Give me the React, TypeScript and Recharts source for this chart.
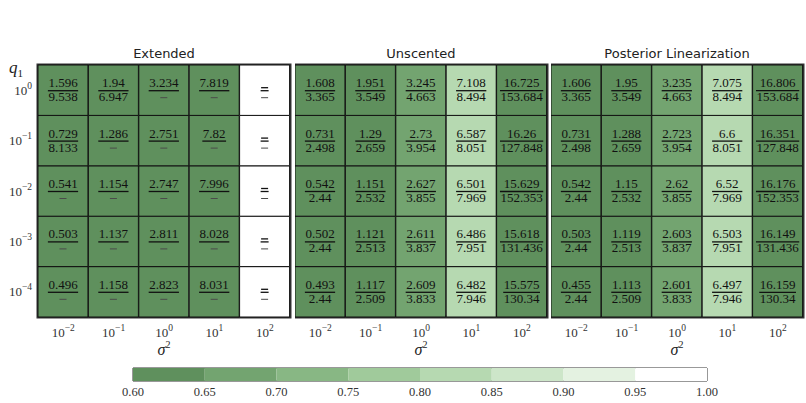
import React from "react";
import { BarChart, Bar, XAxis, YAxis, Cell, LabelList, ReferenceArea, Label } from "recharts";

// axes: sigma^2 exponents (columns) and q1 exponents (rows, top to bottom)
const sigmaExps = [-2, -1, 0, 1, 2];
const q1Exps = [0, -1, -2, -3, -4];

const panelTitles = ["Extended", "Unscented", "Posterior Linearization"];

// null means "—"
const extendedNum = [
  ["1.596", "1.94", "3.234", "7.819", null],
  ["0.729", "1.286", "2.751", "7.82", null],
  ["0.541", "1.154", "2.747", "7.996", null],
  ["0.503", "1.137", "2.811", "8.028", null],
  ["0.496", "1.158", "2.823", "8.031", null],
];
const extendedDen = [
  ["9.538", "6.947", null, null, null],
  ["8.133", null, null, null, null],
  [null, null, null, null, null],
  [null, null, null, null, null],
  [null, null, null, null, null],
];
const unscentedNum = [
  ["1.608", "1.951", "3.245", "7.108", "16.725"],
  ["0.731", "1.29", "2.73", "6.587", "16.26"],
  ["0.542", "1.151", "2.627", "6.501", "15.629"],
  ["0.502", "1.121", "2.611", "6.486", "15.618"],
  ["0.493", "1.117", "2.609", "6.482", "15.575"],
];
const unscentedDen = [
  ["3.365", "3.549", "4.663", "8.494", "153.684"],
  ["2.498", "2.659", "3.954", "8.051", "127.848"],
  ["2.44", "2.532", "3.855", "7.969", "152.353"],
  ["2.44", "2.513", "3.837", "7.951", "131.436"],
  ["2.44", "2.509", "3.833", "7.946", "130.34"],
];
const posteriorNum = [
  ["1.606", "1.95", "3.235", "7.075", "16.806"],
  ["0.731", "1.288", "2.723", "6.6", "16.351"],
  ["0.542", "1.15", "2.62", "6.52", "16.176"],
  ["0.503", "1.119", "2.603", "6.503", "16.149"],
  ["0.455", "1.113", "2.601", "6.497", "16.159"],
];
const posteriorDen = unscentedDen;

// colour values (estimated from the shading)
const extendedScore = [
  [0.63, 0.63, 0.63, 0.63, 1.0],
  [0.63, 0.63, 0.63, 0.63, 1.0],
  [0.63, 0.63, 0.63, 0.63, 1.0],
  [0.63, 0.63, 0.63, 0.63, 1.0],
  [0.63, 0.63, 0.63, 0.63, 1.0],
];
const unscentedScore = [
  [0.61, 0.61, 0.67, 0.82, 0.61],
  [0.61, 0.61, 0.67, 0.82, 0.61],
  [0.61, 0.61, 0.67, 0.82, 0.61],
  [0.61, 0.61, 0.67, 0.82, 0.61],
  [0.61, 0.61, 0.67, 0.82, 0.61],
];
const posteriorScore = unscentedScore;

const colorBounds = [0.6, 0.65, 0.7, 0.75, 0.8, 0.85, 0.9, 0.95, 1.0];
const binColors = ["#5f905d", "#73a470", "#88b784", "#a0ca9b", "#b6d9b1", "#cde6c9", "#e4f2e1", "#ffffff"];

const SERIF = "'Liberation Serif', 'DejaVu Serif', serif";

function colorFor(v: number) {
  let k = Math.floor((v - colorBounds[0]) / 0.05 + 1e-9);
  k = Math.max(0, Math.min(binColors.length - 1, k));
  return binColors[k];
}

function textWidth(s: string) {
  return [...s].reduce((w, c) => w + (c === "." ? 3.25 : 6.5), 0);
}

function Fraction({ cx, cy, num, den }: { cx: number; cy: number; num: string | null; den: string | null }) {
  const w = Math.max(num ? textWidth(num) : 7, den ? textWidth(den) : 0) + 1;
  return (
    <g>
      {num ? (
        <text x={cx} y={cy - 3} textAnchor="middle" fontFamily={SERIF} fontSize={13} fill="#111">
          {num}
        </text>
      ) : (
        <line x1={cx - 3.5} x2={cx + 3.5} y1={cy - 2.5} y2={cy - 2.5} stroke="#111" strokeWidth={1.3} />
      )}
      <line x1={cx - w / 2} x2={cx + w / 2} y1={cy + 0.5} y2={cy + 0.5} stroke="#111" strokeWidth={1.3} />
      {den ? (
        <text x={cx} y={cy + 11} textAnchor="middle" fontFamily={SERIF} fontSize={13} fill="#111">
          {den}
        </text>
      ) : (
        <line x1={cx - 3.5} x2={cx + 3.5} y1={cy + 7.5} y2={cy + 7.5} stroke="#4a4a4a" strokeWidth={1} />
      )}
    </g>
  );
}

function PowerTick(props: any) {
  const { x, y, payload, anchor, dy } = props;
  const e = payload.value as number;
  const exp = e < 0 ? `\u2212${-e}` : `${e}`;
  return (
    <text x={x} y={y + dy} textAnchor={anchor} fontFamily={SERIF} fontSize={13} fill="#333">
      <tspan>10</tspan>
      <tspan dy={-6} fontSize={9.5}>
        {exp}
      </tspan>
    </text>
  );
}

function XTick(props: any) {
  return <PowerTick {...props} anchor="middle" dy={20} />;
}

function YTick(props: any) {
  const t = props.payload.value as number;
  const i = Math.round(q1Exps.length - 0.5 - t);
  return <PowerTick {...props} x={props.x - 6} payload={{ value: q1Exps[i] }} anchor="end" dy={4.5} />;
}

function SigmaLabel(props: any) {
  const { x, y, width } = props.viewBox;
  return (
    <text x={x + width / 2} y={y + 38} textAnchor="middle" fontFamily={SERIF} fontSize={16} fill="#222">
      <tspan fontStyle="italic">σ</tspan>
      <tspan dy={-7} fontSize={10}>
        2
      </tspan>
    </text>
  );
}

type PanelProps = {
  title: string;
  num: (string | null)[][];
  den: (string | null)[][];
  score: number[][];
  left: number;
  width: number;
  showY: boolean;
};

function Panel({ title, num, den, score, left, width, showY }: PanelProps) {
  const data = sigmaExps.map((e) => {
    const row: Record<string, number> = { sigma: e };
    q1Exps.forEach((_, i) => (row[`r${i}`] = 1));
    return row;
  });
  const rowsBottomUp = q1Exps.map((_, i) => q1Exps.length - 1 - i);
  const yTicks = q1Exps.map((_, i) => q1Exps.length - 0.5 - i);
  const yWidth = showY ? 38 : 0;
  const plotW = width - yWidth - 3;

  return (
    <div style={{ position: "absolute", left, top: 0, width, height: 360 }}>
      <div
        style={{
          position: "absolute",
          left: yWidth,
          width: plotW,
          top: 46,
          textAlign: "center",
          fontFamily: "'DejaVu Sans', sans-serif",
          fontSize: 13,
          lineHeight: "16px",
          color: "#222",
        }}
      >
        {title}
      </div>
      <BarChart width={width} height={360} data={data} margin={{ top: 65, right: 3, left: 0, bottom: 0 }} barCategoryGap={0} barGap={0}>
        <XAxis dataKey="sigma" type="category" height={43} axisLine={false} tickLine={false} tickSize={0} tickMargin={0} tick={<XTick />} interval={0}>
          <Label content={<SigmaLabel />} />
        </XAxis>
        <YAxis
          type="number"
          domain={[0, q1Exps.length]}
          ticks={yTicks}
          hide={!showY}
          width={yWidth}
          axisLine={false}
          tickLine={false}
          tickSize={0}
          tickMargin={0}
          tick={<YTick />}
          interval={0}
        />
        {rowsBottomUp.map((i) => (
          <Bar key={i} dataKey={`r${i}`} stackId="grid" isAnimationActive={false}>
            {sigmaExps.map((_, j) => (
              <Cell key={j} fill={colorFor(score[i][j])} stroke="#111" strokeWidth={1} />
            ))}
            <LabelList
              dataKey={`r${i}`}
              content={(p: any) => (
                <Fraction
                  cx={Number(p.x) + Number(p.width) / 2}
                  cy={Number(p.y) + Number(p.height) / 2}
                  num={num[i][p.index]}
                  den={den[i][p.index]}
                />
              )}
            />
          </Bar>
        ))}
        <ReferenceArea y1={0} y2={q1Exps.length} fill="none" stroke="#333" strokeWidth={3} ifOverflow="visible" />
      </BarChart>
    </div>
  );
}

function CbTick(props: any) {
  const { x, y, payload } = props;
  return (
    <text x={x} y={y + 15} textAnchor="middle" fontFamily={SERIF} fontSize={12.5} fill="#333">
      {Number(payload.value).toFixed(2)}
    </text>
  );
}

function Colorbar() {
  const row: Record<string, number | string> = { name: "cb", offset: colorBounds[0] };
  binColors.forEach((_, k) => (row[`b${k}`] = colorBounds[k + 1] - colorBounds[k]));
  const cbData = [row];
  return (
    <div style={{ position: "absolute", left: 100, top: 360, width: 640, height: 43 }}>
      <BarChart layout="vertical" width={640} height={43} data={cbData} margin={{ top: 8, right: 33, left: 33, bottom: 0 }} barCategoryGap={0}>
        <XAxis
          type="number"
          domain={[colorBounds[0], colorBounds[colorBounds.length - 1]]}
          allowDataOverflow
          ticks={colorBounds}
          interval={0}
          height={22}
          axisLine={false}
          tickLine={false}
          tickSize={0}
          tickMargin={0}
          tick={<CbTick />}
        />
        <YAxis type="category" dataKey="name" hide />
        <Bar dataKey="offset" stackId="cb" fill="none" isAnimationActive={false} />
        {binColors.map((c, k) => (
          <Bar key={k} dataKey={`b${k}`} stackId="cb" fill={c} isAnimationActive={false} />
        ))}
        <ReferenceArea x1={colorBounds[0]} x2={colorBounds[colorBounds.length - 1]} fill="none" stroke="#333" strokeWidth={1} ifOverflow="visible" />
      </BarChart>
    </div>
  );
}

export default function App() {
  return (
    <div style={{ position: "absolute", left: 0, top: 0, width: 806, height: 403, background: "#fff", overflow: "hidden" }}>
      <div style={{ position: "absolute", left: 9, top: 58, fontFamily: SERIF, fontSize: 17, color: "#222" }}>
        <i>q</i>
        <sub style={{ fontSize: 11 }}>1</sub>
      </div>
      <Panel title={panelTitles[0]} num={extendedNum} den={extendedDen} score={extendedScore} left={0} width={293} showY />
      <Panel title={panelTitles[1]} num={unscentedNum} den={unscentedDen} score={unscentedScore} left={295} width={255} showY={false} />
      <Panel title={panelTitles[2]} num={posteriorNum} den={posteriorDen} score={posteriorScore} left={551} width={255} showY={false} />
      <Colorbar />
    </div>
  );
}
